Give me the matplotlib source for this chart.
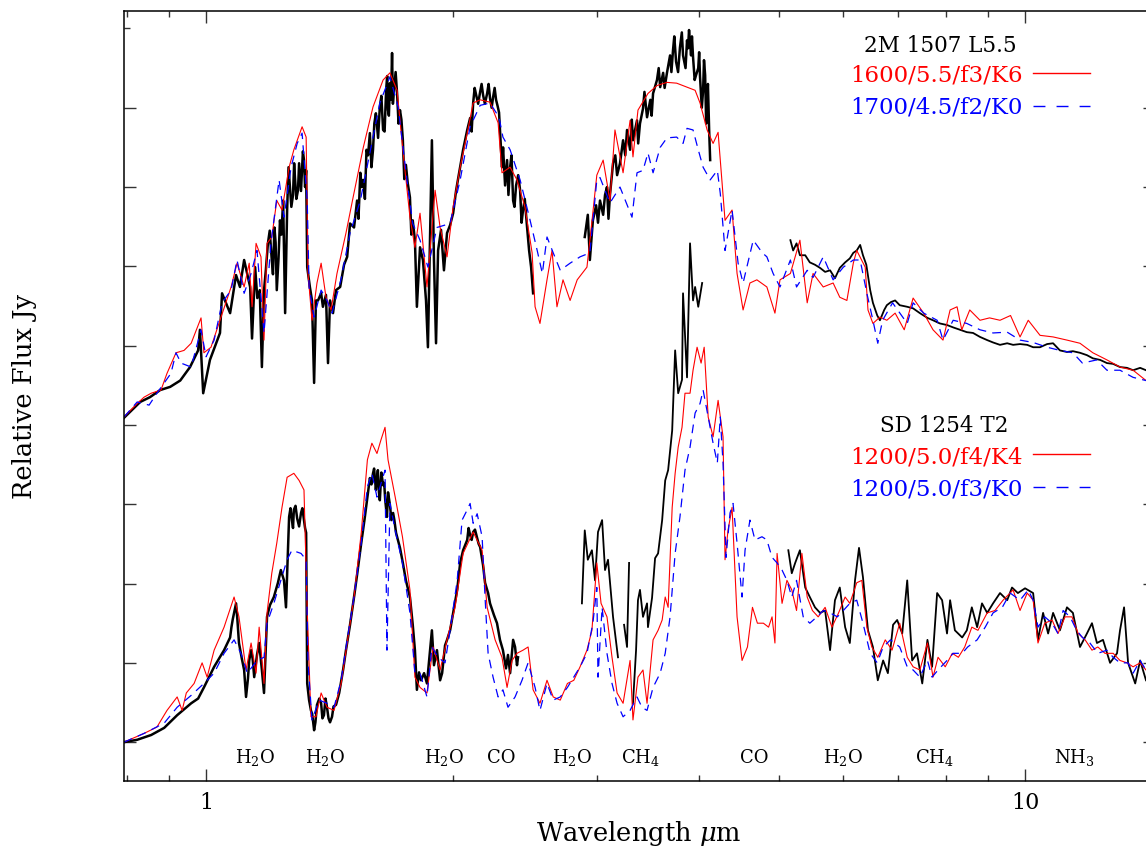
import numpy as np
import matplotlib
matplotlib.use('Agg')
import matplotlib.pyplot as plt
from matplotlib.lines import Line2D
from matplotlib.ticker import FixedLocator, NullFormatter, FuncFormatter

plt.rcParams['font.family'] = ['DejaVu Serif']
plt.rcParams['mathtext.fontset'] = 'dejavuserif'

nan = np.nan

# ---- 2M 1507 L5.5 (upper spectrum), columns: wavelength (um), relative flux ----
top_obs = np.array([
    [0.794, 4.09], [0.831, 4.29], [0.854, 4.35], [0.879, 4.44], [0.904, 4.48], [0.930, 4.56], [0.956, 4.73], [0.978, 4.94], [0.983, 5.20], [0.992, 4.40],
    [1.011, 4.82], [1.040, 5.16], [1.046, 5.66], [1.070, 5.41], [1.088, 5.89], [1.100, 5.74], [1.113, 6.08], [1.132, 5.74], [1.138, 5.09], [1.148, 5.99],
    [1.163, 5.70], [1.170, 4.73], [1.177, 5.70], [1.190, 6.29], [1.203, 6.08], [1.212, 6.49], [1.220, 5.70], [1.231, 6.58], [1.242, 6.83], [1.249, 5.41],
    [1.256, 6.71], [1.266, 7.00], [1.277, 6.90], [1.284, 7.12], [1.295, 6.96], [1.303, 7.09], [1.310, 7.25], [1.317, 7.34], [1.325, 7.21], [1.329, 5.99],
    [1.339, 5.74], [1.347, 5.57], [1.355, 4.53], [1.362, 5.57], [1.370, 5.57], [1.382, 5.66], [1.389, 5.49], [1.401, 5.64], [1.409, 4.78], [1.417, 5.57],
    [1.429, 5.41], [1.441, 5.70], [1.458, 5.74], [1.474, 6.02], [1.487, 6.12], [1.499, 6.54], [1.516, 6.49], [1.529, 6.83], [1.543, 7.18], [1.556, 7.09],
    [1.570, 7.47], [1.585, 7.68], [1.599, 7.47], [1.612, 7.93], [1.630, 8.01], [1.645, 7.72], [1.659, 8.22], [1.668, 7.97], [1.677, 8.31], [1.687, 8.69],
    [1.696, 8.22], [1.711, 8.18], [1.725, 7.97], [1.739, 7.59], [1.754, 7.28], [1.774, 6.87], [1.788, 6.58], [1.799, 6.33], [1.809, 5.49], [1.825, 6.24],
    [1.840, 6.08], [1.856, 5.57], [1.866, 4.98], [1.877, 6.33], [1.887, 7.59], [1.898, 6.08], [1.909, 5.03], [1.920, 6.20], [1.936, 6.46], [1.952, 5.95],
    [1.969, 6.42], [1.986, 6.52], [2.003, 6.67], [2.020, 6.96], [2.043, 7.25], [2.060, 7.47], [2.084, 7.72], [2.101, 7.87], [2.119, 8.06], [2.137, 8.16],
    [2.161, 8.20], [2.179, 8.16], [2.204, 8.18], [2.222, 8.12], [2.241, 8.13], [2.260, 8.10], [2.279, 7.94], [2.292, 7.47], [2.298, 7.25], [2.318, 7.02],
    [2.331, 7.34], [2.351, 7.25], [2.371, 6.83], [2.391, 7.02], [2.418, 6.96], [2.438, 6.71], [2.466, 6.49], [2.480, 6.20], [2.494, 5.99], [2.508, 5.66],
    [2.70, nan],
    [2.900, 6.37], [2.925, 6.65], [2.942, 6.08], [2.967, 6.58], [2.994, 6.77], [3.027, 6.83], [3.054, 6.65], [3.087, 7.00], [3.113, 6.90], [3.140, 7.30],
    [3.176, 7.15], [3.202, 7.30], [3.230, 7.59], [3.266, 7.72], [3.294, 7.47], [3.321, 7.59], [3.359, 7.84], [3.387, 7.80], [3.416, 7.99], [3.455, 7.88],
    [3.487, 8.10], [3.514, 8.18], [3.553, 8.35], [3.585, 8.26], [3.615, 8.44], [3.654, 8.44], [3.686, 8.66], [3.717, 8.73], [3.749, 8.58], [3.790, 8.76],
    [3.823, 8.66], [3.866, 8.85], [3.888, 8.98], [3.910, 8.66], [3.932, 8.64], [3.965, 8.41], [3.990, 8.50], [4.010, 8.39], [4.045, 8.22], [4.068, 8.41],
    [4.091, 8.10], [4.114, 7.72], [4.126, 7.34],
    [4.60, nan],
    [5.17, 6.33], [5.21, 6.20], [5.26, 6.29], [5.31, 6.14], [5.39, 6.14], [5.46, 6.05], [5.54, 6.02], [5.62, 5.98], [5.70, 5.93], [5.78, 5.95],
    [5.86, 5.85], [5.94, 5.98], [6.03, 6.05], [6.11, 6.10], [6.17, 6.17], [6.23, 6.20], [6.29, 6.27], [6.34, 6.14], [6.40, 6.02], [6.47, 5.70],
    [6.52, 5.54], [6.60, 5.38], [6.65, 5.32], [6.73, 5.45], [6.78, 5.51], [6.86, 5.55], [6.94, 5.57], [7.03, 5.51], [7.18, 5.49], [7.30, 5.47],
    [7.44, 5.41], [7.60, 5.35], [7.72, 5.32], [7.87, 5.28], [8.03, 5.26], [8.17, 5.23], [8.33, 5.20], [8.49, 5.17], [8.64, 5.16], [8.81, 5.11],
    [8.99, 5.07], [9.14, 5.04], [9.32, 5.01], [9.51, 5.03], [9.67, 5.01], [9.86, 5.02], [10.06, 5.01], [10.23, 4.98], [10.43, 4.98], [10.64, 5.02],
    [10.82, 5.03], [11.03, 4.94], [11.25, 4.92], [11.44, 4.93], [11.67, 4.91], [11.90, 4.88], [12.10, 4.84], [12.35, 4.82], [12.59, 4.78], [12.81, 4.77],
    [13.06, 4.73], [13.32, 4.72], [13.55, 4.69], [13.82, 4.72], [14.05, 4.69],
    # extra noise samples inside the dense near-IR band
    [1.155, 5.60], [1.183, 5.95], [1.196, 6.45], [1.207, 5.90], [1.216, 6.30], [1.226, 6.10], [1.236, 6.40],
    [1.261, 7.25], [1.271, 6.75], [1.281, 7.30], [1.289, 6.85], [1.299, 7.30], [1.306, 6.95], [1.313, 7.45], [1.321, 7.00],
    [1.535, 6.60], [1.549, 7.00], [1.563, 6.85], [1.577, 7.40], [1.592, 7.25], [1.605, 7.80], [1.622, 7.62], [1.637, 8.15],
    [1.652, 7.70], [1.664, 8.40], [1.672, 7.90], [1.682, 8.10], [1.691, 8.05], [1.704, 8.45], [1.718, 7.80], [1.732, 7.85],
    [1.746, 7.10], [1.763, 7.05], [1.781, 6.40],
    [2.110, 7.70], [2.128, 8.25], [2.149, 8.05], [2.170, 8.30], [2.190, 8.05], [2.213, 8.30], [2.232, 8.00], [2.251, 8.25],
    [2.270, 8.02], [2.305, 7.50], [2.340, 6.90], [2.360, 7.40], [2.380, 6.75], [2.405, 7.15], [2.428, 6.55], [2.450, 6.85],
    [3.010, 6.55], [3.070, 6.90], [3.100, 6.60], [3.160, 7.40], [3.250, 7.40], [3.310, 7.85], [3.370, 7.55], [3.430, 8.20],
    [3.500, 7.90], [3.570, 8.50], [3.630, 8.25], [3.700, 8.45], [3.730, 8.90], [3.770, 8.45], [3.810, 8.95], [3.850, 8.50],
    [3.877, 8.75], [3.920, 8.90], [3.950, 8.35], [4.000, 8.70], [4.030, 8.00], [4.055, 8.60], [4.080, 7.80], [4.100, 8.30],
])

top_red = np.array([
    [0.794, 4.10], [0.824, 4.27], [0.840, 4.35], [0.857, 4.40], [0.881, 4.44], [0.896, 4.65], [0.919, 4.91], [0.940, 4.94], [0.959, 5.03], [0.986, 5.35],
    [0.994, 4.91], [1.014, 4.98], [1.043, 5.36], [1.073, 5.74], [1.091, 6.04], [1.113, 5.74], [1.129, 6.04], [1.138, 5.49], [1.151, 6.29], [1.167, 6.12],
    [1.177, 5.07], [1.187, 6.29], [1.203, 6.37], [1.220, 6.83], [1.238, 6.71], [1.263, 7.25], [1.280, 7.47], [1.310, 7.76], [1.325, 7.63], [1.332, 5.91],
    [1.347, 5.32], [1.366, 5.79], [1.382, 6.04], [1.401, 5.61], [1.421, 5.45], [1.445, 5.91], [1.482, 6.42], [1.512, 6.87], [1.556, 7.50], [1.599, 8.01],
    [1.645, 8.35], [1.677, 8.44], [1.711, 8.22], [1.739, 7.47], [1.774, 6.62], [1.799, 6.24], [1.825, 6.67], [1.861, 5.74], [1.904, 6.96], [1.931, 6.49],
    [1.969, 6.12], [2.003, 6.75], [2.043, 7.25], [2.084, 7.68], [2.119, 8.06], [2.161, 8.10], [2.222, 8.07], [2.273, 7.81], [2.298, 7.18], [2.351, 7.25],
    [2.397, 7.09], [2.451, 6.75], [2.501, 6.17], [2.522, 5.49], [2.557, 5.28], [2.608, 5.83], [2.645, 6.20], [2.682, 5.49], [2.728, 5.83], [2.783, 5.57],
    [2.839, 5.83], [2.918, 5.99], [2.960, 6.58], [3.000, 7.15], [3.054, 7.34], [3.113, 6.83], [3.157, 7.72], [3.230, 7.18], [3.294, 7.84], [3.321, 7.38],
    [3.368, 7.97], [3.464, 8.18], [3.553, 8.28], [3.654, 8.32], [3.755, 8.31], [3.866, 8.26], [3.955, 8.22], [4.010, 8.06], [4.091, 7.72], [4.160, 7.55],
    [4.219, 7.69], [4.302, 6.58], [4.388, 6.71], [4.450, 5.91], [4.526, 5.45], [4.614, 5.79], [4.705, 5.83], [4.839, 5.74], [4.950, 5.41], [5.021, 5.83],
    [5.17, 5.91], [5.31, 6.33], [5.42, 5.54], [5.51, 5.91], [5.67, 5.74], [5.83, 5.79], [5.94, 5.61], [6.06, 5.57], [6.17, 6.04], [6.23, 6.20],
    [6.38, 5.99], [6.43, 5.45], [6.52, 5.28], [6.65, 5.36], [6.78, 5.32], [6.94, 5.41], [7.12, 5.20], [7.30, 5.60], [7.52, 5.41], [7.72, 5.20],
    [7.94, 5.07], [8.10, 5.45], [8.26, 5.49], [8.37, 5.20], [8.56, 5.45], [8.81, 5.32], [9.05, 5.35], [9.32, 5.32], [9.60, 5.38], [9.86, 5.11],
    [10.09, 5.32], [10.43, 5.13], [10.82, 5.11], [11.25, 5.07], [11.67, 5.03], [12.10, 4.91], [12.59, 4.82], [13.06, 4.73], [13.55, 4.69], [14.05, 4.56],
])

top_blue = np.array([
    [0.794, 4.10], [0.824, 4.29], [0.852, 4.25], [0.871, 4.40], [0.906, 4.65], [0.919, 4.91], [0.932, 4.78], [0.959, 4.73], [0.986, 5.20], [1.000, 4.86],
    [1.023, 5.07], [1.046, 5.54], [1.073, 5.70], [1.091, 6.08], [1.113, 5.66], [1.135, 5.91], [1.154, 6.20], [1.177, 5.16], [1.200, 6.29], [1.228, 7.09],
    [1.245, 6.62], [1.270, 7.25], [1.292, 7.55], [1.310, 7.68], [1.329, 6.83], [1.336, 5.74], [1.355, 5.36], [1.382, 5.70], [1.405, 5.57], [1.425, 5.41],
    [1.461, 5.83], [1.499, 6.42], [1.543, 6.83], [1.585, 7.43], [1.630, 8.06], [1.677, 8.39], [1.716, 8.01], [1.759, 7.09], [1.788, 6.54], [1.825, 6.33],
    [1.866, 5.99], [1.914, 6.49], [1.986, 6.54], [2.043, 7.09], [2.101, 7.76], [2.161, 8.03], [2.222, 8.06], [2.279, 7.88], [2.304, 7.63], [2.351, 7.47],
    [2.418, 7.09], [2.487, 6.58], [2.537, 6.20], [2.574, 5.91], [2.608, 6.37], [2.654, 6.17], [2.707, 5.95], [2.783, 6.04], [2.862, 6.12], [2.942, 6.17],
    [3.000, 7.09], [3.027, 7.12], [3.113, 6.80], [3.202, 7.00], [3.312, 6.62], [3.359, 7.18], [3.416, 7.21], [3.464, 7.43], [3.514, 7.18], [3.585, 7.50],
    [3.654, 7.62], [3.755, 7.63], [3.823, 7.55], [3.866, 7.74], [3.932, 7.72], [3.990, 7.47], [4.045, 7.25], [4.126, 7.09], [4.210, 7.21], [4.245, 6.92],
    [4.302, 6.20], [4.388, 6.71], [4.463, 6.04], [4.526, 5.79], [4.657, 6.33], [4.778, 6.17], [4.839, 6.12], [4.925, 5.91], [5.021, 5.74], [5.17, 6.08],
    [5.26, 5.74], [5.42, 5.95], [5.51, 5.86], [5.67, 6.12], [5.83, 5.83], [6.00, 5.99], [6.17, 6.08], [6.29, 6.08], [6.41, 5.66], [6.52, 5.32],
    [6.61, 5.03], [6.70, 5.32], [6.89, 5.54], [7.18, 5.28], [7.30, 5.54], [7.52, 5.41], [7.81, 5.32], [7.94, 5.07], [8.17, 5.32], [8.49, 5.28],
    [8.81, 5.20], [9.14, 5.16], [9.51, 5.17], [9.86, 5.07], [10.23, 5.04], [10.64, 4.98], [11.03, 4.94], [11.44, 4.91], [11.75, 4.78], [12.23, 4.82],
    [12.59, 4.69], [13.06, 4.69], [13.55, 4.60], [14.05, 4.56],
])

# ---- SD 1254 T2 (lower spectrum) ----
bot_obs = np.array([
    [0.794, 0.00], [0.824, 0.03], [0.857, 0.09], [0.889, 0.18], [0.922, 0.34], [0.959, 0.49], [0.978, 0.55], [0.994, 0.69], [1.023, 0.95], [1.052, 1.16],
    [1.070, 1.32], [1.082, 1.63], [1.088, 1.75], [1.097, 1.25], [1.113, 0.91], [1.119, 0.57], [1.129, 1.03], [1.135, 1.16], [1.145, 0.82], [1.154, 1.10],
    [1.161, 1.25], [1.170, 0.91], [1.177, 0.62], [1.187, 1.58], [1.197, 1.73], [1.210, 1.83], [1.224, 2.01], [1.234, 2.17], [1.245, 2.04], [1.252, 1.70],
    [1.263, 2.84], [1.273, 2.80], [1.280, 2.93], [1.292, 2.82], [1.306, 2.89], [1.317, 2.80], [1.325, 2.64], [1.329, 0.74], [1.336, 0.53], [1.343, 0.40],
    [1.355, 0.15], [1.366, 0.47], [1.382, 0.49], [1.393, 0.34], [1.405, 0.44], [1.417, 0.25], [1.425, 0.32], [1.441, 0.47], [1.454, 0.62], [1.470, 0.91],
    [1.482, 1.16], [1.499, 1.48], [1.516, 1.83], [1.529, 2.11], [1.547, 2.51], [1.561, 2.80], [1.574, 3.09], [1.585, 3.33], [1.599, 3.39], [1.612, 3.18],
    [1.621, 3.43], [1.630, 3.05], [1.645, 3.24], [1.650, 3.27], [1.663, 2.84], [1.677, 2.99], [1.692, 2.89], [1.706, 2.64], [1.725, 2.45], [1.739, 2.26],
    [1.754, 2.04], [1.774, 1.83], [1.788, 1.48], [1.799, 1.16], [1.809, 0.66], [1.820, 0.88], [1.830, 0.78], [1.846, 0.87], [1.861, 0.74], [1.877, 1.16],
    [1.887, 1.41], [1.898, 0.97], [1.914, 1.16], [1.931, 0.78], [1.942, 0.87], [1.958, 1.22], [1.969, 1.29], [1.986, 1.41], [2.003, 1.63], [2.026, 1.92],
    [2.043, 2.26], [2.060, 2.42], [2.084, 2.55], [2.101, 2.61], [2.119, 2.65], [2.143, 2.57], [2.161, 2.46], [2.179, 2.23], [2.191, 2.01], [2.210, 1.88],
    [2.222, 1.75], [2.247, 1.60], [2.266, 1.50], [2.285, 1.29], [2.304, 1.16], [2.324, 0.93], [2.337, 1.10], [2.351, 0.87], [2.371, 1.29], [2.384, 1.20],
    [2.397, 0.97], [2.404, 1.07],
    [2.60, nan],
    [2.877, 1.75], [2.900, 2.67], [2.925, 2.30], [2.959, 2.42], [2.985, 2.04], [3.010, 2.65], [3.045, 2.80], [3.070, 2.17], [3.096, 2.30], [3.140, 1.58],
    [3.184, 1.07],
    [3.21, nan],
    [3.239, 1.48], [3.266, 1.20], [3.285, 2.26],
    [3.30, nan],
    [3.321, 0.49], [3.350, 1.16], [3.368, 1.79], [3.387, 1.92], [3.416, 1.58], [3.455, 1.75], [3.464, 1.45], [3.504, 1.82], [3.534, 2.32], [3.564, 2.38],
    [3.605, 2.80], [3.636, 3.30], [3.666, 3.43], [3.708, 3.93], [3.739, 4.94], [3.771, 4.40], [3.812, 4.57], [3.823, 5.66], [3.866, 4.60], [3.899, 6.29],
    [3.932, 5.57], [3.955, 5.74], [3.990, 5.49], [4.034, 5.79],
    [4.50, nan],
    [5.14, 2.42], [5.19, 2.13], [5.24, 2.26], [5.31, 2.42], [5.39, 1.95], [5.46, 1.83], [5.54, 1.70], [5.62, 1.63], [5.70, 1.66], [5.78, 1.16],
    [5.86, 1.79], [5.94, 1.95], [6.03, 1.45], [6.11, 1.25], [6.20, 2.04], [6.27, 2.45], [6.34, 2.08], [6.43, 1.41], [6.52, 1.20], [6.61, 0.78],
    [6.71, 1.03], [6.80, 0.87], [6.90, 1.48], [6.98, 1.54], [7.08, 1.37], [7.18, 2.04], [7.28, 1.03], [7.38, 1.12], [7.49, 0.74], [7.60, 1.29],
    [7.70, 0.95], [7.81, 1.88], [7.92, 1.79], [8.03, 1.37], [8.10, 1.79], [8.21, 1.41], [8.38, 1.32], [8.49, 1.41], [8.61, 1.70], [8.74, 1.45],
    [8.86, 1.75], [8.99, 1.63], [9.14, 1.75], [9.32, 1.88], [9.51, 1.79], [9.64, 1.95], [9.80, 1.88], [10.00, 1.94], [10.23, 1.88], [10.37, 1.29],
    [10.52, 1.63], [10.67, 1.37], [10.82, 1.63], [11.03, 1.41], [11.25, 1.70], [11.44, 1.63], [11.67, 1.20], [11.90, 1.37], [12.07, 1.50], [12.24, 1.25],
    [12.45, 1.29], [12.70, 1.00], [12.95, 1.12], [13.06, 1.41], [13.21, 1.70], [13.36, 1.00], [13.63, 0.74], [13.82, 1.03], [14.05, 0.78],
    # extra noise samples inside the dense near-IR band
    [1.074, 1.45], [1.078, 1.55], [1.092, 1.55], [1.106, 1.05], [1.125, 0.80], [1.140, 1.05],
    [1.268, 2.95], [1.277, 2.70], [1.286, 2.98], [1.299, 2.72], [1.311, 2.95], [1.321, 2.70],
    [1.348, 0.35], [1.360, 0.25], [1.375, 0.55], [1.387, 0.30], [1.399, 0.55], [1.411, 0.30], [1.431, 0.45],
    [1.592, 3.25], [1.604, 3.45], [1.616, 3.30], [1.626, 3.15], [1.637, 3.40], [1.655, 3.05], [1.668, 3.15], [1.684, 2.80], [1.698, 2.80],
    [2.092, 2.70], [2.110, 2.55], [2.130, 2.68], [2.152, 2.50],
])

bot_red = np.array([
    [0.794, 0.00], [0.840, 0.11], [0.871, 0.19], [0.896, 0.40], [0.922, 0.57], [0.935, 0.40], [0.946, 0.62], [0.967, 0.74], [0.989, 1.00], [1.003, 0.82],
    [1.023, 1.16], [1.052, 1.45], [1.082, 1.83], [1.097, 1.58], [1.119, 0.91], [1.135, 1.25], [1.151, 0.87], [1.161, 1.45], [1.177, 0.74], [1.187, 1.63],
    [1.203, 2.13], [1.220, 2.51], [1.238, 2.96], [1.256, 3.34], [1.280, 3.39], [1.299, 3.30], [1.317, 3.18], [1.329, 1.66], [1.343, 0.32], [1.362, 0.32],
    [1.382, 0.62], [1.405, 0.44], [1.433, 0.40], [1.462, 0.74], [1.487, 1.25], [1.516, 1.83], [1.547, 2.64], [1.574, 3.56], [1.594, 3.77], [1.617, 3.64],
    [1.635, 3.81], [1.654, 3.97], [1.668, 3.56], [1.702, 3.09], [1.737, 2.59], [1.774, 1.92], [1.799, 0.82], [1.825, 0.69], [1.861, 0.62], [1.893, 1.20],
    [1.931, 0.91], [1.969, 1.29], [2.014, 1.70], [2.060, 2.38], [2.119, 2.65], [2.173, 2.42], [2.204, 1.70], [2.254, 1.29], [2.298, 1.07], [2.331, 0.69],
    [2.364, 1.03], [2.397, 1.12], [2.438, 1.16], [2.473, 1.20], [2.508, 0.66], [2.557, 0.49], [2.608, 0.78], [2.654, 0.57], [2.707, 0.53], [2.762, 0.74],
    [2.812, 0.78], [2.862, 0.95], [2.918, 1.16], [2.959, 1.41], [3.000, 2.26], [3.036, 1.75], [3.087, 1.58], [3.131, 1.07], [3.176, 0.62], [3.230, 0.49],
    [3.294, 1.03], [3.321, 0.28], [3.368, 0.82], [3.416, 0.91], [3.455, 0.49], [3.514, 1.29], [3.564, 1.41], [3.605, 1.54], [3.636, 1.83], [3.666, 1.70],
    [3.708, 2.96], [3.739, 3.39], [3.771, 3.72], [3.812, 3.97], [3.844, 4.40], [3.899, 4.40], [3.932, 4.69], [3.977, 4.98], [4.022, 4.78], [4.057, 4.98],
    [4.103, 4.10], [4.160, 3.85], [4.219, 4.31], [4.278, 3.85], [4.302, 2.30], [4.338, 2.67], [4.388, 2.96], [4.450, 1.58], [4.513, 1.03], [4.582, 1.20],
    [4.647, 1.70], [4.712, 1.50], [4.792, 1.50], [4.862, 1.45], [4.910, 1.58], [4.950, 1.25], [4.980, 2.38], [5.05, 1.75], [5.12, 2.04], [5.19, 1.92],
    [5.26, 1.66], [5.34, 2.38], [5.42, 1.83], [5.50, 1.66], [5.59, 1.58], [5.70, 1.70], [5.81, 1.45], [5.92, 1.63], [6.03, 1.83], [6.11, 1.75],
    [6.23, 2.01], [6.32, 2.04], [6.41, 1.45], [6.50, 1.20], [6.61, 1.07], [6.75, 1.29], [6.88, 1.16], [7.03, 1.50], [7.18, 1.07], [7.30, 0.95],
    [7.44, 0.91], [7.60, 1.25], [7.72, 0.82], [7.83, 1.07], [7.99, 0.95], [8.15, 1.12], [8.29, 1.07], [8.44, 1.20], [8.61, 1.45], [8.76, 1.41],
    [8.99, 1.63], [9.19, 1.66], [9.40, 1.79], [9.67, 1.92], [9.86, 1.66], [10.06, 1.88], [10.23, 1.79], [10.37, 1.25], [10.57, 1.50], [10.79, 1.54],
    [10.97, 1.37], [11.19, 1.58], [11.41, 1.58], [11.61, 1.37], [11.84, 1.29], [12.07, 1.16], [12.27, 1.20], [12.52, 1.12], [12.81, 1.12], [13.06, 1.03],
    [13.32, 1.00], [13.55, 0.95], [13.82, 1.00], [14.05, 0.91],
])

bot_blue = np.array([
    [0.794, 0.00], [0.840, 0.11], [0.889, 0.24], [0.922, 0.44], [0.959, 0.59], [0.994, 0.74], [1.023, 0.87], [1.052, 1.12], [1.082, 1.29], [1.103, 1.12],
    [1.123, 0.87], [1.154, 1.03], [1.177, 1.07], [1.187, 1.50], [1.210, 1.75], [1.234, 2.04], [1.256, 2.30], [1.273, 2.42], [1.306, 2.38], [1.325, 2.30],
    [1.332, 1.00], [1.347, 0.28], [1.374, 0.53], [1.405, 0.49], [1.433, 0.44], [1.462, 0.78], [1.487, 1.29], [1.516, 1.83], [1.547, 2.51], [1.574, 3.22],
    [1.594, 3.39], [1.617, 3.09], [1.654, 3.43], [1.663, 1.16], [1.677, 3.01], [1.702, 2.67], [1.737, 2.26], [1.774, 1.63], [1.799, 0.87], [1.825, 0.87],
    [1.861, 0.57], [1.887, 1.20], [1.920, 1.07], [1.958, 1.00], [1.986, 1.41], [2.026, 2.04], [2.054, 2.80], [2.084, 2.93], [2.101, 3.01], [2.119, 2.76],
    [2.143, 2.88], [2.173, 2.59], [2.191, 1.83], [2.210, 1.12], [2.241, 0.82], [2.273, 0.57], [2.304, 0.66], [2.337, 0.44], [2.384, 0.57], [2.431, 0.78],
    [2.473, 1.00], [2.522, 0.69], [2.557, 0.40], [2.608, 0.74], [2.654, 0.53], [2.707, 0.57], [2.762, 0.69], [2.812, 0.82], [2.862, 0.95], [2.918, 1.12],
    [2.967, 1.50], [3.000, 1.95], [3.010, 0.82], [3.045, 1.70], [3.087, 1.12], [3.131, 0.74], [3.176, 0.49], [3.230, 0.32], [3.294, 0.40], [3.359, 0.57],
    [3.406, 0.44], [3.455, 0.40], [3.514, 0.69], [3.585, 0.87], [3.636, 1.12], [3.686, 1.58], [3.739, 2.38], [3.790, 2.84], [3.844, 3.43], [3.899, 3.72],
    [3.955, 4.15], [4.010, 4.27], [4.045, 4.44], [4.103, 4.10], [4.160, 3.77], [4.210, 3.52], [4.245, 4.10], [4.278, 3.52], [4.314, 2.33], [4.363, 2.89],
    [4.400, 3.01], [4.450, 2.51], [4.513, 1.83], [4.551, 2.42], [4.614, 2.80], [4.680, 2.55], [4.773, 2.59], [4.839, 2.55], [4.910, 2.33], [4.980, 2.26],
    [5.05, 2.17], [5.12, 2.04], [5.19, 1.83], [5.26, 2.04], [5.36, 1.58], [5.46, 1.50], [5.57, 1.58], [5.67, 1.66], [5.78, 1.63], [5.90, 1.58],
    [6.00, 1.66], [6.11, 1.75], [6.23, 1.79], [6.34, 1.50], [6.47, 1.12], [6.60, 1.00], [6.71, 1.20], [6.85, 1.29], [7.03, 1.20], [7.18, 0.95],
    [7.30, 0.91], [7.44, 0.82], [7.60, 1.03], [7.70, 0.82], [7.83, 0.91], [8.03, 1.03], [8.17, 1.12], [8.38, 1.12], [8.51, 1.20], [8.74, 1.29],
    [8.94, 1.45], [9.14, 1.63], [9.38, 1.70], [9.59, 1.88], [9.86, 1.79], [10.09, 1.92], [10.23, 1.79], [10.37, 1.45], [10.57, 1.58], [10.79, 1.50],
    [10.97, 1.37], [11.13, 1.66], [11.35, 1.58], [11.56, 1.41], [11.75, 1.32], [12.00, 1.25], [12.27, 1.12], [12.59, 1.16], [12.81, 1.07], [13.06, 1.00],
    [13.36, 1.00], [13.55, 0.87], [13.82, 1.03], [14.05, 0.91],
])

# molecular band labels and their wavelengths
band_labels = ['H$_2$O', 'H$_2$O', 'H$_2$O', 'CO', 'H$_2$O', 'CH$_4$', 'CO', 'H$_2$O', 'CH$_4$', 'NH$_3$']
band_waves = [1.148, 1.398, 1.952, 2.29, 2.80, 3.39, 4.67, 6.0, 7.75, 11.5]

# sort so that the extra noise samples fall in place
top_obs = top_obs[np.argsort(top_obs[:, 0], kind='stable')]
bot_obs = bot_obs[np.argsort(bot_obs[:, 0], kind='stable')]

blue_dash = (0, (7, 5))

W, H = 1146, 846
fig = plt.figure(figsize=(W / 100, H / 100), dpi=100)
ax = fig.add_axes([124 / W, 1 - 781 / H, 1031 / W, 770 / H])

# observed spectra: thicker where the ground-based data are dense
for obs, cut in [(top_obs, 4.2), (bot_obs, 2.5)]:
    near = obs[:, 0] <= cut
    ax.plot(obs[near, 0], obs[near, 1], color='black', lw=1.8)
    ax.plot(obs[~near, 0], obs[~near, 1], color='black', lw=1.3)

for red, blue in [(top_red, top_blue), (bot_red, bot_blue)]:
    ax.plot(red[:, 0], red[:, 1], color='red', lw=0.8)
    ax.plot(blue[:, 0], blue[:, 1], color='blue', lw=0.9, ls=blue_dash)

ax.set_xscale('log')
ax.set_xlim(0.794, 14.41)
ax.set_ylim(-0.49, 9.22)

ax.xaxis.set_major_locator(FixedLocator([1, 10]))
ax.xaxis.set_minor_locator(FixedLocator([0.8, 0.9, 2, 3, 4, 5, 6, 7, 8, 9]))
ax.xaxis.set_major_formatter(FuncFormatter(lambda v, p: f'{v:g}'))
ax.xaxis.set_minor_formatter(NullFormatter())
ax.yaxis.set_major_locator(FixedLocator(range(0, 9)))
ax.yaxis.set_minor_locator(FixedLocator([9]))
ax.yaxis.set_major_formatter(NullFormatter())
ax.tick_params(which='both', direction='in', top=True, right=True, width=1.0, color='#333333')
ax.tick_params(which='major', length=8.6, labelsize=16, pad=8)
ax.tick_params(which='minor', length=4.3)
for s in ax.spines.values():
    s.set_linewidth(1.1)

for lab, wv in zip(band_labels, band_waves):
    ax.text(wv, -0.265, lab, ha='center', va='baseline', fontsize=13)

fig.text(25 / W, 1 - 396 / H, 'Relative Flux Jy', rotation=90, ha='center', va='center', fontsize=18.5)
fig.text(639 / W, 1 - 833 / H, r'Wavelength $\mu$m', ha='center', va='center', fontsize=18.5)

# annotations with sample lines
fig.text(940 / W, 1 - 52 / H, '2M 1507 L5.5', ha='center', va='baseline', fontsize=15.5)
fig.text(1023 / W, 1 - 82 / H, '1600/5.5/f3/K6', ha='right', va='baseline', fontsize=16.5, color='red')
fig.text(1023 / W, 1 - 114 / H, '1700/4.5/f2/K0', ha='right', va='baseline', fontsize=16.5, color='blue')
fig.text(944 / W, 1 - 432 / H, 'SD 1254 T2', ha='center', va='baseline', fontsize=15.5)
fig.text(1023 / W, 1 - 463 / H, '1200/5.0/f4/K4', ha='right', va='baseline', fontsize=16.5, color='red')
fig.text(1023 / W, 1 - 495 / H, '1200/5.0/f3/K0', ha='right', va='baseline', fontsize=16.5, color='blue')

for yy, col, ls in [(73, 'red', '-'), (106, 'blue', (0, (8.6, 8))),
                    (454, 'red', '-'), (487, 'blue', (0, (8.6, 8)))]:
    fig.add_artist(Line2D([1033 / W, 1090 / W], [1 - yy / H] * 2, color=col, lw=1.0, ls=ls,
                          transform=fig.transFigure))

fig.savefig('out.png', dpi=100, facecolor='white')
